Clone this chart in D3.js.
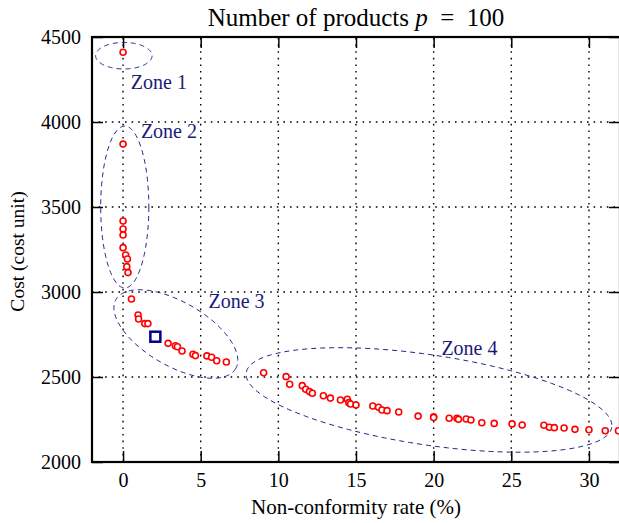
<!DOCTYPE html>
<html>
<head>
<meta charset="utf-8">
<script src="https://cdn.jsdelivr.net/npm/d3@7"></script>
<style>
  body { margin: 0; background: #fff; }
</style>
</head>
<body>
<div id="chart"></div>
<script>
// non-conformity rate (%) and cost for each solution
var rates = [0,
  0, 0, 0, 0, 0, 0.17, 0.28, 0.24, 0.32,
  0.54, 0.97, 1.0, 1.4, 1.6, 2.9, 3.37, 3.5, 3.8, 4.5, 4.66, 5.4, 5.7, 6.03, 6.65,
  9.05, 10.5, 10.73, 11.54, 11.76, 12.0, 12.19, 12.9, 13.35, 14.0, 14.44, 14.54, 14.65, 15.0,
  16.08, 16.45, 16.67, 17.0, 17.75, 19.0, 20.0, 20.0, 21.0, 21.5, 21.6, 22.1, 22.4, 23.1, 23.9,
  25.05, 25.7, 27.1, 27.45, 27.77, 28.4, 29.1, 30.0, 31.05, 31.9];
var costs = [4410,
  3870, 3418, 3371, 3335, 3261, 3218, 3194, 3149, 3114,
  2959, 2865, 2841, 2814, 2814, 2698, 2684, 2678, 2653, 2634, 2626, 2624, 2616, 2596, 2588,
  2525, 2502, 2457, 2449, 2428, 2414, 2404, 2390, 2376, 2365, 2369, 2349, 2341, 2335,
  2329, 2322, 2306, 2302, 2294, 2270, 2266, 2262, 2257, 2257, 2251, 2253, 2247, 2231, 2227,
  2224, 2218, 2216, 2204, 2202, 2200, 2192, 2190, 2184, 2184];

// the chosen solution (blue square)
var chosenRate = [2.08];
var chosenCost = [2737];

// zones: ellipse centre (data units), half axes (data units), tilt (deg)
var zoneNames = ["Zone 1", "Zone 2", "Zone 3", "Zone 4"];
var zoneCx = [0.05, 0.11, 3.4, 19.7];
var zoneCy = [4390, 3500, 2753, 2365];
var zoneRx = [1.82, 1.55, 4.45, 11.9];
var zoneRy = [78, 476, 188, 265];
var zoneTilt = [0, 0, 30, 8.5];
var zoneLabelX = [0.5, 1.15, 5.5, 20.5];
var zoneLabelY = [4195, 3905, 2905, 2630];

var xTicks = [0, 5, 10, 15, 20, 25, 30];
var yTicks = [2000, 2500, 3000, 3500, 4000, 4500];

var W = 619, H = 523;
var margin = {left: 92, right: -1, top: 37, bottom: 61};
var serif = '"Times New Roman", "Liberation Serif", Times, serif';

var svg = d3.select('#chart').append('svg')
  .attr('width', W).attr('height', H)
  .style('font-family', serif);

var x = d3.scaleLinear().domain([-2, 32]).range([margin.left, W - margin.right]);
var y = d3.scaleLinear().domain([2000, 4500]).range([H - margin.bottom, margin.top]);

var x0 = x.range()[0], x1 = x.range()[1];
var y0 = y.range()[0], y1 = y.range()[1];

// dotted grid
var grid = svg.append('g');
grid.selectAll('line.vx').data(xTicks).enter().append('line')
  .attr('x1', d => x(d)).attr('x2', d => x(d))
  .attr('y1', y0).attr('y2', y1);
grid.selectAll('line.hy').data(yTicks).enter().append('line')
  .attr('y1', d => y(d)).attr('y2', d => y(d))
  .attr('x1', x0).attr('x2', x1);
grid.selectAll('line')
  .attr('stroke', '#000').attr('stroke-width', 1.4)
  .attr('stroke-dasharray', '1.6,5');

// axes with inward ticks
var tk = 11;
var fmt = d3.format('d');
svg.append('g').attr('transform', 'translate(0,' + y0 + ')')
  .call(d3.axisBottom(x).tickValues(xTicks).tickSize(-tk).tickPadding(11).tickFormat(fmt));
svg.append('g').attr('transform', 'translate(0,' + y1 + ')')
  .call(d3.axisTop(x).tickValues(xTicks).tickSize(-tk).tickFormat(''));
svg.append('g').attr('transform', 'translate(' + x0 + ',0)')
  .call(d3.axisLeft(y).tickValues(yTicks).tickSize(-tk).tickPadding(11).tickFormat(fmt));
svg.append('g').attr('transform', 'translate(' + x1 + ',0)')
  .call(d3.axisRight(y).tickValues(yTicks).tickSize(-tk).tickFormat(''));

svg.selectAll('.domain').remove();
svg.selectAll('.tick line').attr('stroke', '#000').attr('stroke-width', 1.5);
svg.selectAll('.tick text')
  .style('font-family', serif)
  .attr('font-size', 20).attr('fill', '#000');

svg.append('rect')
  .attr('x', x0).attr('y', y1)
  .attr('width', x1 - x0).attr('height', y0 - y1)
  .attr('fill', 'none').attr('stroke', '#000').attr('stroke-width', 2.2);

// zone ellipses
var ell = d3.line();
var zones = svg.append('g');
zoneNames.forEach(function(name, i) {
  var cx = x(zoneCx[i]), cy = y(zoneCy[i]);
  var a = x(zoneRx[i]) - x(0), b = y(0) - y(zoneRy[i]);
  var th = zoneTilt[i] * Math.PI / 180;
  var pts = d3.range(0, 361, 2).map(function(t) {
    var r = t * Math.PI / 180;
    var ex = a * Math.cos(r), ey = b * Math.sin(r);
    return [cx + ex * Math.cos(th) - ey * Math.sin(th),
            cy + ex * Math.sin(th) + ey * Math.cos(th)];
  });
  zones.append('path')
    .attr('d', ell(pts))
    .attr('fill', 'none')
    .attr('stroke', '#22228a')
    .attr('stroke-width', 1)
    .attr('stroke-dasharray', '5,4');
  zones.append('text')
    .attr('x', x(zoneLabelX[i])).attr('y', y(zoneLabelY[i]))
    .attr('font-size', 20).attr('fill', '#1a1a7a')
    .text(name);
});

// solutions
svg.append('g').selectAll('circle').data(rates).enter().append('circle')
  .attr('cx', d => x(d))
  .attr('cy', (d, i) => y(costs[i]))
  .attr('r', 3)
  .attr('fill', '#fff')
  .attr('stroke', '#ff0000')
  .attr('stroke-width', 1.6);

svg.append('g').selectAll('rect').data(chosenRate).enter().append('rect')
  .attr('x', d => x(d) - 5)
  .attr('y', (d, i) => y(chosenCost[i]) - 5)
  .attr('width', 10).attr('height', 10)
  .attr('fill', '#fff')
  .attr('stroke', '#00008b')
  .attr('stroke-width', 2.5);

// title and axis labels
var title = svg.append('text')
  .attr('x', (x0 + x1) / 2).attr('y', 26)
  .attr('text-anchor', 'middle')
  .attr('font-size', 25);
title.append('tspan').text('Number of products ');
title.append('tspan').attr('font-style', 'italic').text('p');
title.append('tspan').text('\u2002=\u2002100');

svg.append('text')
  .attr('x', (x0 + x1) / 2).attr('y', 514)
  .attr('text-anchor', 'middle')
  .attr('font-size', 21)
  .text('Non-conformity rate (%)');

svg.append('text')
  .attr('transform', 'translate(24,' + ((y0 + y1) / 2 + 2) + ') rotate(-90)')
  .attr('text-anchor', 'middle')
  .attr('font-size', 19.5)
  .text('Cost (cost unit)');
</script>
</body>
</html>
